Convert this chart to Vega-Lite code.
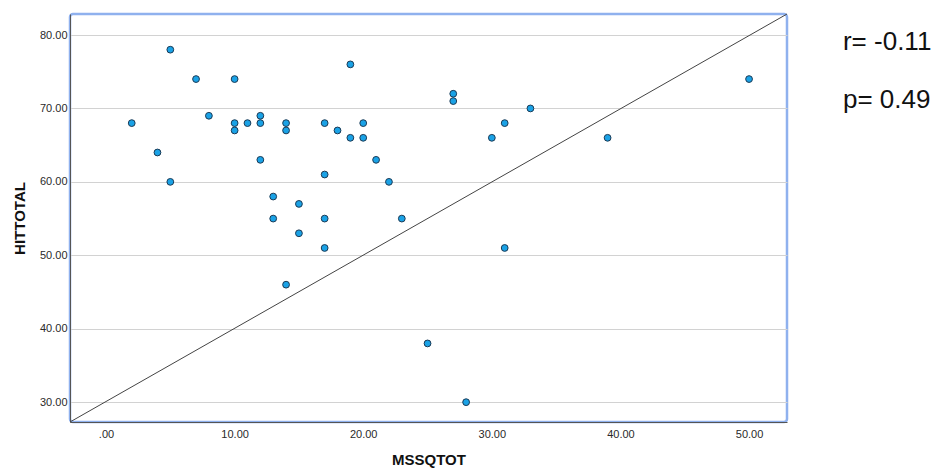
{
  "$schema": "https://vega.github.io/schema/vega-lite/v6.json",
  "autosize": "none",
  "width": 717,
  "height": 408,
  "padding": {"left": 70, "top": 14, "right": 158, "bottom": 46},
  "background": "white",
  "config": {
    "view": {"stroke": "#8fb1ee", "strokeWidth": 2.5, "cornerRadius": 3},
    "font": "Liberation Sans",
    "axis": {
      "labelFont": "Liberation Sans",
      "labelFontSize": 11,
      "labelColor": "#2a2a2a",
      "titleFont": "Liberation Sans",
      "titleFontSize": 15,
      "titleFontWeight": "bold",
      "titleColor": "#111111",
      "ticks": false,
      "domainColor": "#555555",
      "domainWidth": 1
    }
  },
  "layer": [
    {
      "data": {
        "values": [
          {"MSSQTOT": 2, "HITTOTAL": 68},
          {"MSSQTOT": 4, "HITTOTAL": 64},
          {"MSSQTOT": 5, "HITTOTAL": 78},
          {"MSSQTOT": 5, "HITTOTAL": 60},
          {"MSSQTOT": 7, "HITTOTAL": 74},
          {"MSSQTOT": 8, "HITTOTAL": 69},
          {"MSSQTOT": 10, "HITTOTAL": 74},
          {"MSSQTOT": 10, "HITTOTAL": 68},
          {"MSSQTOT": 10, "HITTOTAL": 67},
          {"MSSQTOT": 11, "HITTOTAL": 68},
          {"MSSQTOT": 12, "HITTOTAL": 69},
          {"MSSQTOT": 12, "HITTOTAL": 68},
          {"MSSQTOT": 12, "HITTOTAL": 63},
          {"MSSQTOT": 13, "HITTOTAL": 58},
          {"MSSQTOT": 13, "HITTOTAL": 55},
          {"MSSQTOT": 14, "HITTOTAL": 68},
          {"MSSQTOT": 14, "HITTOTAL": 67},
          {"MSSQTOT": 14, "HITTOTAL": 46},
          {"MSSQTOT": 15, "HITTOTAL": 57},
          {"MSSQTOT": 15, "HITTOTAL": 53},
          {"MSSQTOT": 17, "HITTOTAL": 68},
          {"MSSQTOT": 17, "HITTOTAL": 61},
          {"MSSQTOT": 17, "HITTOTAL": 55},
          {"MSSQTOT": 17, "HITTOTAL": 51},
          {"MSSQTOT": 18, "HITTOTAL": 67},
          {"MSSQTOT": 19, "HITTOTAL": 76},
          {"MSSQTOT": 19, "HITTOTAL": 66},
          {"MSSQTOT": 20, "HITTOTAL": 68},
          {"MSSQTOT": 20, "HITTOTAL": 66},
          {"MSSQTOT": 21, "HITTOTAL": 63},
          {"MSSQTOT": 22, "HITTOTAL": 60},
          {"MSSQTOT": 23, "HITTOTAL": 55},
          {"MSSQTOT": 25, "HITTOTAL": 38},
          {"MSSQTOT": 27, "HITTOTAL": 72},
          {"MSSQTOT": 27, "HITTOTAL": 71},
          {"MSSQTOT": 28, "HITTOTAL": 30},
          {"MSSQTOT": 30, "HITTOTAL": 66},
          {"MSSQTOT": 31, "HITTOTAL": 68},
          {"MSSQTOT": 31, "HITTOTAL": 51},
          {"MSSQTOT": 33, "HITTOTAL": 70},
          {"MSSQTOT": 39, "HITTOTAL": 66},
          {"MSSQTOT": 50, "HITTOTAL": 74}
        ]
      },
      "mark": {"type": "point", "filled": true, "fill": "#1aa2e6", "stroke": "#1b3a55", "strokeWidth": 1, "size": 46, "opacity": 1, "fillOpacity": 1},
      "encoding": {
        "x": {
          "field": "MSSQTOT", "type": "quantitative", "title": "MSSQTOT",
          "scale": {"domain": [-2.8, 52.95], "nice": false, "zero": false},
          "axis": {"values": [0, 10, 20, 30, 40, 50], "grid": false, "labelPadding": 6, "titlePadding": 13,
                   "labelExpr": "datum.value == 0 ? '.00' : format(datum.value, '.2f')"}
        },
        "y": {
          "field": "HITTOTAL", "type": "quantitative", "title": "HITTOTAL",
          "scale": {"domain": [27.3, 82.86], "nice": false, "zero": false},
          "axis": {"values": [30, 40, 50, 60, 70, 80], "grid": true, "gridColor": "#d2d2d2", "gridWidth": 1.2,
                   "labelPadding": 3, "titlePadding": 12, "format": ".2f"}
        }
      }
    },
    {
      "data": {"values": [{"line": "reference"}]},
      "mark": {"type": "rule", "color": "#444444", "strokeWidth": 1},
      "encoding": {
        "x": {"datum": -2.8},
        "y": {"datum": 27.3},
        "x2": {"datum": 52.95},
        "y2": {"datum": 82.86}
      }
    },
    {
      "data": {"values": [{"label": "r= -0.11"}]},
      "mark": {"type": "text", "align": "left", "baseline": "middle", "fontSize": 26, "fontWeight": "normal", "font": "Liberation Sans", "fill": "#111111", "clip": false},
      "encoding": {
        "x": {"datum": 57.3},
        "y": {"datum": 79.05},
        "text": {"field": "label"}
      }
    },
    {
      "data": {"values": [{"label": "p= 0.49"}]},
      "mark": {"type": "text", "align": "left", "baseline": "middle", "fontSize": 26, "fontWeight": "normal", "font": "Liberation Sans", "fill": "#111111", "clip": false},
      "encoding": {
        "x": {"datum": 57.3},
        "y": {"datum": 71.1},
        "text": {"field": "label"}
      }
    }
  ]
}
